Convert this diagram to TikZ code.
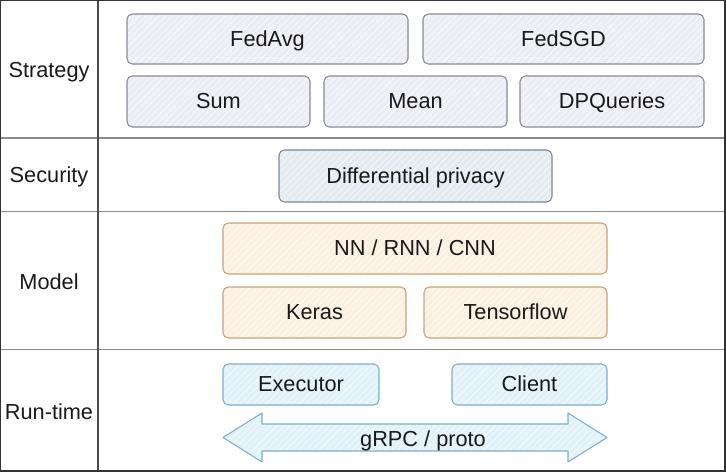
\documentclass[tikz,border=0pt]{standalone}
\usepackage{fontspec}
\setmainfont{Liberation Sans}
\usetikzlibrary{patterns.meta}

\definecolor{stratfill}{HTML}{EDEDF6}
\definecolor{stratline}{HTML}{8A8A98}
\definecolor{secfill}{HTML}{E4ECF1}
\definecolor{secline}{HTML}{7C8893}
\definecolor{modfill}{HTML}{FBF0E0}
\definecolor{modline}{HTML}{C9A378}
\definecolor{rtfill}{HTML}{E1F2F9}
\definecolor{rtline}{HTML}{7DAFC7}

\tikzset{
  layer/.style={font=\fontsize{16.3}{19}\selectfont, text=black!90},
  box/.style={layer, draw, rounded corners=4pt, line width=0.8pt, inner sep=0pt,
    text height=10.5pt, text depth=0pt},
  sketchfill/.style={preaction={fill=#1},
    preaction={pattern={Lines[angle=45,distance=3.5pt,line width=0.3pt]}, pattern color=white}},
  stratbox/.style={box, draw=stratline, sketchfill=stratfill},
  secbox/.style={box, draw=secline, sketchfill=secfill},
  modbox/.style={box, draw=modline, sketchfill=modfill},
  rtbox/.style={box, draw=rtline, sketchfill=rtfill},
}

\begin{document}
\begin{tikzpicture}[x=0.75pt, y=-0.75pt]
  \useasboundingbox (0,0) rectangle (726,472);
  % grid of layers
  \draw[black!45, line width=0.9pt] (0,138) -- (725,138);
  \draw[black!45, line width=0.9pt] (0,211.5) -- (725,211.5);
  \draw[black!45, line width=0.9pt] (0,349.5) -- (725,349.5);
  \draw[black!70, line width=0.9pt] (98,0) -- (98,471);
  \draw[black!80, line width=1pt] (0.5,0.5) rectangle (725,471);

  % layer names
  \node[layer] (strategy) at (49,72) {Strategy};
  \node[layer] (security) at (49,176.5) {Security};
  \node[layer] (model) at (49,282) {Model};
  \node[layer] (runtime) at (49,412) {Run-time};

  % strategy
  \node[stratbox, minimum width=210.75pt, minimum height=37.5pt] (fedavg) at (267.5,39) {FedAvg};
  \node[stratbox, minimum width=210.75pt, minimum height=37.5pt] (fedsgd) at (563.5,39) {FedSGD};
  \node[stratbox, minimum width=137.25pt, minimum height=38.25pt] (sum) at (218.5,101.5) {Sum};
  \node[stratbox, minimum width=137.25pt, minimum height=38.25pt] (mean) at (415.5,101.5) {Mean};
  \node[stratbox, minimum width=138pt, minimum height=38.25pt] (dpq) at (612,101.5) {DPQueries};

  % security
  \node[secbox, minimum width=204.75pt, minimum height=39pt] (dp) at (415.5,176) {Differential privacy};

  % model
  \node[modbox, minimum width=288pt, minimum height=38.25pt] (nn) at (415,248.5) {NN / RNN / CNN};
  \node[modbox, minimum width=137.25pt, minimum height=38.25pt] (keras) at (314.5,312.5) {Keras};
  \node[modbox, minimum width=137.25pt, minimum height=38.25pt] (tf) at (515.5,312.5) {Tensorflow};

  % run-time
  \node[rtbox, minimum width=117pt, minimum height=30.75pt] (executor) at (301,384.5) {Executor};
  \node[rtbox, minimum width=116.25pt, minimum height=30.75pt] (client) at (529.5,384.5) {Client};
  \draw[rtline, sketchfill=rtfill, line width=0.8pt, line join=round]
    (223,437.5) -- (262,413) -- (262,424) -- (568,424) -- (568,413) -- (607,437.5)
    -- (568,462) -- (568,451) -- (262,451) -- (262,462) -- cycle;
  \node[layer] (grpc) at (423,441) {gRPC / proto};
\end{tikzpicture}
\end{document}
